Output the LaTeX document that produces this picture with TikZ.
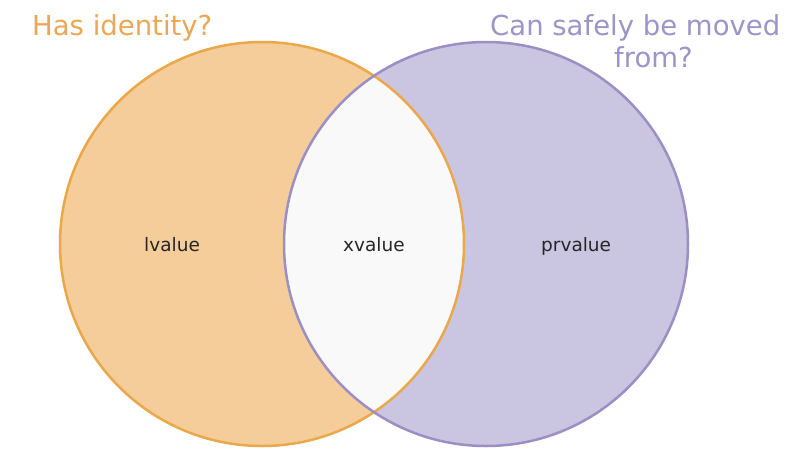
\documentclass[tikz,border=0pt]{standalone}
\usepackage{fontspec}
\setmainfont{DejaVu Sans}
\definecolor{orfill}{HTML}{F5CD9B}
\definecolor{orline}{HTML}{EBA84A}
\definecolor{pufill}{HTML}{CAC5E1}
\definecolor{puline}{HTML}{9B8FC5}
\definecolor{ortext}{HTML}{EAA754}
\definecolor{putext}{HTML}{9D95C9}
\definecolor{lens}{HTML}{F9F9F9}
\tikzset{
  title/.style={font=\fontsize{27.5}{33}\selectfont, inner sep=0pt, anchor=base west},
  label/.style={font=\fontsize{18.5}{22}\selectfont, inner sep=0pt, anchor=base west, text=black!85},
  ring/.style={line width=2.5pt}
}
\begin{document}
\begin{tikzpicture}[x=1pt,y=-1pt]
\useasboundingbox[fill=white] (0,0) rectangle (796,467);
\coordinate (cl) at (262,244);
\coordinate (cr) at (486,244);
\fill[orfill] (cl) circle[radius=202];
\fill[pufill] (cr) circle[radius=202];
\begin{scope}
  \clip (cl) circle[radius=202];
  \fill[lens] (cr) circle[radius=202];
\end{scope}
\draw[ring, orline] (cl) circle[radius=202];
\draw[ring, puline] (cr) circle[radius=202];
\node[title, text=ortext] (t1) at (32,35) {Has identity?};
\node[title, text=putext] (t2) at (490,35) {Can safely be moved};
\node[title, text=putext] (t3) at (614,67) {from?};
\node[label] (l) at (144,251) {lvalue};
\node[label] (x) at (343,251) {xvalue};
\node[label] (p) at (541,251) {prvalue};
\end{tikzpicture}
\end{document}
